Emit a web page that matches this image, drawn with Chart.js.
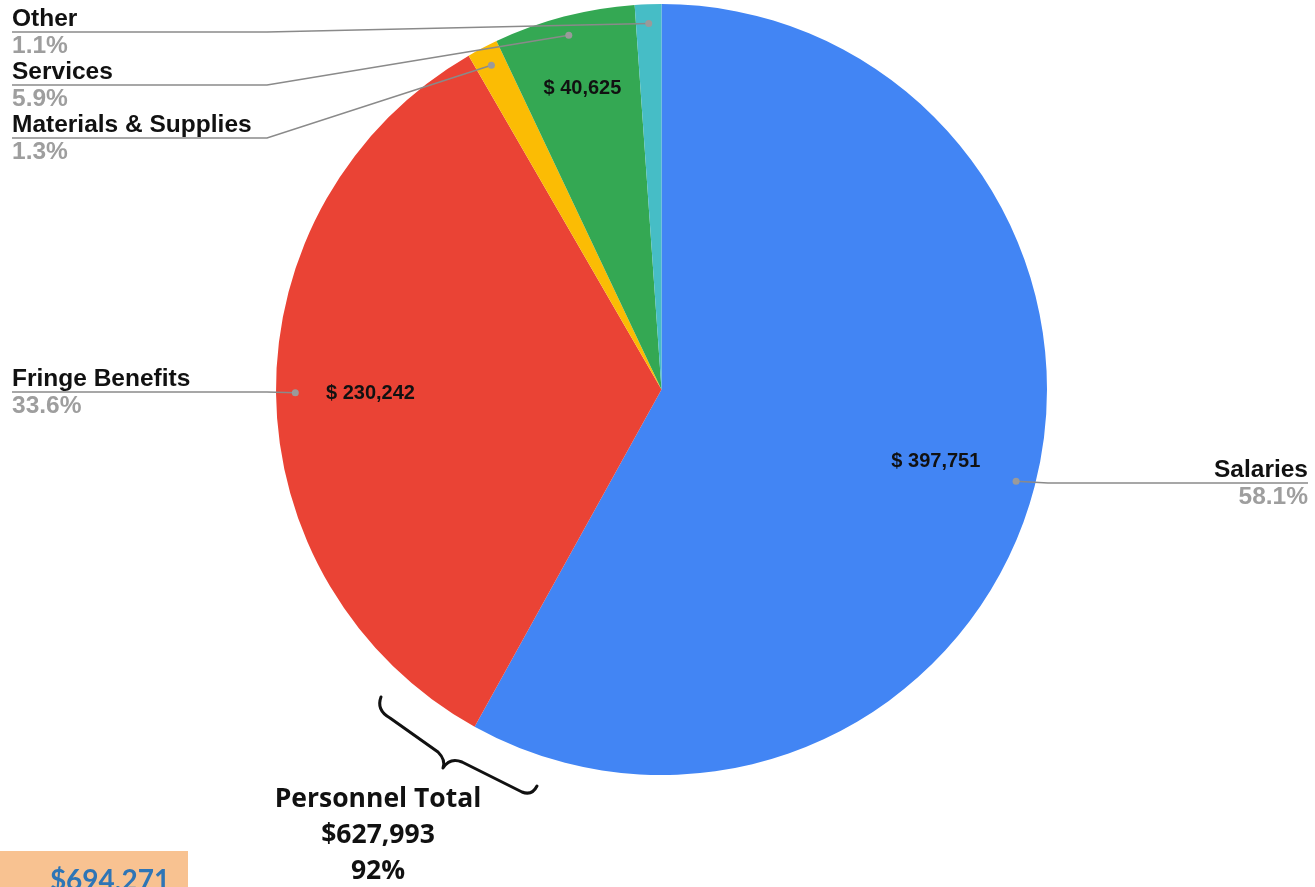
<!DOCTYPE html>
<html>
<head>
<meta charset="utf-8">
<script src="https://cdn.jsdelivr.net/npm/chart.js@4/dist/chart.umd.min.js"></script>
<style>
  html, body { margin: 0; padding: 0; background: #fff; }
  #wrap { position: relative; width: 1315px; height: 887px; }
</style>
</head>
<body>
<div id="wrap"><canvas id="budgetPie" width="1315" height="887"></canvas></div>
<script>
// data
const categories = ['Salaries', 'Fringe Benefits', 'Materials & Supplies', 'Services', 'Other'];
const amounts = [397751, 230242, 8900, 40625, 7600];
const sliceColors = ['#4285F4', '#EA4335', '#FBBC04', '#34A853', '#46BDC6'];
const personnelCats = ['Salaries', 'Fringe Benefits'];
const budgetTotal = 694271;

// where the callout text sits (y of the underline) and which side
const calloutLineY = [483, 392, 138, 85, 32];
const calloutSide = ['right', 'left', 'left', 'left', 'left'];
const valueLabelRadius = [0.735, 0.755, 0, 0.81, 0];

const pieSum = amounts.reduce((a, b) => a + b, 0);
const fmt = n => n.toLocaleString('en-US');

const calloutPlugin = {
    id: 'callouts',
    afterDatasetsDraw(chart) {
        const ctx = chart.ctx;
        const meta = chart.getDatasetMeta(0);
        ctx.save();
        meta.data.forEach((arc, i) => {
            const p = arc.getProps(['x', 'y', 'startAngle', 'endAngle', 'outerRadius']);
            const mid = (p.startAngle + p.endAngle) / 2;
            const share = amounts[i] / pieSum * 100;

            // value inside the slice (only the bigger ones)
            if (share > 5) {
                const r = p.outerRadius * valueLabelRadius[i];
                ctx.font = 'bold 20px "Liberation Sans", Arial, sans-serif';
                ctx.fillStyle = '#111';
                ctx.textAlign = 'center';
                ctx.textBaseline = 'middle';
                ctx.fillText('$ ' + fmt(amounts[i]), p.x + Math.cos(mid) * r, p.y + Math.sin(mid) * r + 1);
            }

            // leader line + dot
            const dr = p.outerRadius * 0.95;
            const dx = p.x + Math.cos(mid) * dr;
            const dy = p.y + Math.sin(mid) * dr;
            const ly = calloutLineY[i];
            ctx.strokeStyle = '#8a8a8a';
            ctx.lineWidth = 1.5;
            ctx.beginPath();
            if (calloutSide[i] === 'left') {
                ctx.moveTo(12, ly);
                ctx.lineTo(267, ly);
                ctx.lineTo(dx, dy);
            } else {
                ctx.moveTo(1308, ly);
                ctx.lineTo(1048, ly);
                ctx.lineTo(dx, dy);
            }
            ctx.stroke();
            ctx.fillStyle = '#9a9a9a';
            ctx.beginPath();
            ctx.arc(dx, dy, 3.5, 0, Math.PI * 2);
            ctx.fill();

            // name + percent
            const tx = calloutSide[i] === 'left' ? 12 : 1308;
            ctx.textAlign = calloutSide[i] === 'left' ? 'left' : 'right';
            ctx.textBaseline = 'alphabetic';
            ctx.font = 'bold 24.5px "Liberation Sans", Arial, sans-serif';
            ctx.fillStyle = '#111';
            ctx.fillText(categories[i], tx, ly - 6);
            ctx.fillStyle = '#9e9e9e';
            ctx.fillText(share.toFixed(1) + '%', tx, ly + 21);
        });
        ctx.restore();
    },
    afterDraw(chart) {
        const ctx = chart.ctx;
        ctx.save();

        // curly brace under the personnel slices
        ctx.strokeStyle = '#111';
        ctx.lineWidth = 3;
        ctx.lineCap = 'round';
        ctx.lineJoin = 'round';
        ctx.beginPath();
        ctx.moveTo(381, 697);
        ctx.quadraticCurveTo(376, 710, 390, 718);
        ctx.lineTo(438, 752);
        ctx.quadraticCurveTo(446, 760, 443, 768);
        ctx.quadraticCurveTo(450, 757, 462, 762);
        ctx.lineTo(522, 792);
        ctx.quadraticCurveTo(532, 796, 537, 786);
        ctx.stroke();

        // personnel total text
        const personnel = amounts.filter((v, i) => personnelCats.includes(categories[i])).reduce((a, b) => a + b, 0);
        ctx.fillStyle = '#111';
        ctx.textAlign = 'center';
        ctx.textBaseline = 'alphabetic';
        ctx.font = 'bold 26.5px "Open Sans", Lato, sans-serif';
        ctx.fillText('Personnel Total', 378, 807);
        ctx.fillText('$' + fmt(personnel), 378, 843);
        ctx.fillText(Math.round(personnel / pieSum * 100) + '%', 378, 879);

        // grand total box, cut at the bottom edge
        ctx.fillStyle = '#F8C291';
        ctx.fillRect(0, 851, 188, 40);
        ctx.fillStyle = '#2E75B6';
        ctx.font = 'bold 28px Lato, "Open Sans", sans-serif';
        ctx.fillText('$' + fmt(budgetTotal), 110, 890);

        ctx.restore();
    }
};

new Chart(document.getElementById('budgetPie'), {
    type: 'pie',
    data: {
        labels: categories,
        datasets: [{
            data: amounts,
            backgroundColor: sliceColors,
            borderWidth: 0
        }]
    },
    options: {
        responsive: false,
        animation: false,
        layout: { padding: { left: 276, right: 268, top: 4, bottom: 112 } },
        plugins: {
            legend: { display: false },
            tooltip: { enabled: false }
        }
    },
    plugins: [calloutPlugin]
});
</script>
</body>
</html>
